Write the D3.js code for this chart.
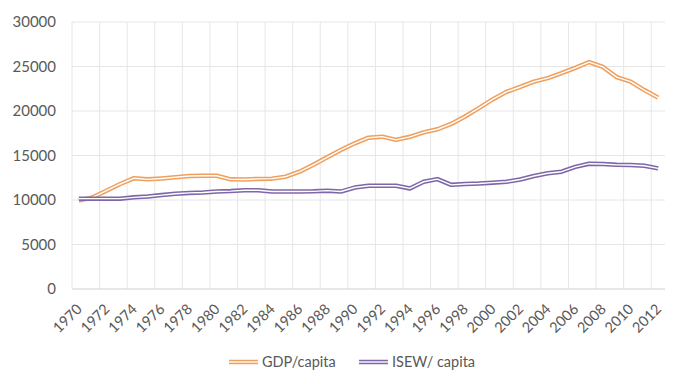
<!DOCTYPE html>
<html>
<head>
<meta charset="utf-8">
<script src="https://cdn.jsdelivr.net/npm/d3@7"></script>
<style>
  body { margin: 0; background: #fff; }
  text { font-family: Lato, "Open Sans", sans-serif; fill: #595959; }
</style>
</head>
<body>
<svg width="700" height="384"></svg>
<script>
const years = d3.range(1970, 2013);
const gdp = [9950, 10300, 11050, 11800, 12450, 12320, 12420, 12550, 12700, 12730, 12720, 12320, 12300, 12370, 12400, 12620, 13180, 13950, 14800, 15620, 16370, 17000, 17120, 16750, 17100, 17600, 17950, 18550, 19380, 20320, 21300, 22150, 22700, 23300, 23700, 24250, 24850, 25500, 24950, 23800, 23300, 22350, 21500];
const isew = [10150, 10150, 10150, 10150, 10300, 10400, 10550, 10700, 10800, 10850, 10950, 11000, 11100, 11100, 10950, 10950, 10950, 10970, 11050, 10950, 11400, 11600, 11600, 11600, 11300, 12050, 12350, 11700, 11800, 11850, 11950, 12050, 12300, 12700, 13000, 13180, 13720, 14080, 14050, 13950, 13930, 13850, 13550];
const yTicks = [0, 5000, 10000, 15000, 20000, 25000, 30000];
const seriesNames = ["GDP/capita", "ISEW/ capita"];
const colors = ["#F0A05E", "#7E67A8"];

const svg = d3.select("svg");
const plotLeft = 72, plotRight = 665, plotTop = 22, plotBottom = 289;

const x = d3.scaleBand().domain(years).range([plotLeft, plotRight]).padding(0);
const y = d3.scaleLinear().domain([0, 30000]).range([plotBottom, plotTop]);

// horizontal gridlines
svg.append("g").selectAll("line")
    .data(yTicks.filter(d => d > 0))
    .enter().append("line")
    .attr("x1", plotLeft).attr("x2", plotRight)
    .attr("y1", d => y(d)).attr("y2", d => y(d))
    .attr("stroke", "#e6e6e6").attr("stroke-width", 1);

// vertical gridlines every 2 categories
svg.append("g").selectAll("line")
    .data(years.filter(d => (d - 1970) % 2 === 0))
    .enter().append("line")
    .attr("x1", d => x(d)).attr("x2", d => x(d))
    .attr("y1", plotTop).attr("y2", plotBottom)
    .attr("stroke", "#e6e6e6").attr("stroke-width", 1);

// bottom axis line
svg.append("line")
    .attr("x1", plotLeft).attr("x2", plotRight)
    .attr("y1", plotBottom).attr("y2", plotBottom)
    .attr("stroke", "#d0d0d0").attr("stroke-width", 1);

// y labels
svg.append("g").selectAll("text")
    .data(yTicks)
    .enter().append("text")
    .attr("x", 56)
    .attr("y", d => y(d) + 5)
    .attr("text-anchor", "end")
    .attr("font-size", 15)
    .text(d => d);

// x labels, rotated
svg.append("g").selectAll("text")
    .data(years.filter(d => (d - 1970) % 2 === 0))
    .enter().append("text")
    .attr("text-anchor", "end")
    .attr("font-size", 14.5)
    .attr("transform", d => `translate(${x(d) + x.bandwidth() / 2 + 4},${plotBottom + 21}) rotate(-45)`)
    .text(d => d);

// double lines: colored stroke with thin white core
const line = d3.line()
    .x((d, i) => x(years[i]) + x.bandwidth() / 2)
    .y(d => y(d));

[gdp, isew].forEach((s, k) => {
    svg.append("path").datum(s)
        .attr("d", line).attr("fill", "none")
        .attr("stroke", colors[k]).attr("stroke-width", 4.5)
        .attr("stroke-linejoin", "round");
    svg.append("path").datum(s)
        .attr("d", line).attr("fill", "none")
        .attr("stroke", "#fff").attr("stroke-width", 1.4)
        .attr("stroke-linejoin", "round");
});

// legend
const legendX = [229, 359];
seriesNames.forEach((name, k) => {
    const g = svg.append("g").attr("transform", `translate(${legendX[k]},362)`);
    g.append("line").attr("x1", 0).attr("x2", 29).attr("y1", 0).attr("y2", 0)
        .attr("stroke", colors[k]).attr("stroke-width", 4.5);
    g.append("line").attr("x1", 0).attr("x2", 29).attr("y1", 0).attr("y2", 0)
        .attr("stroke", "#fff").attr("stroke-width", 1.4);
    g.append("text").attr("x", 33).attr("y", 5)
        .attr("font-size", 14.5).text(name);
});
</script>
</body>
</html>
